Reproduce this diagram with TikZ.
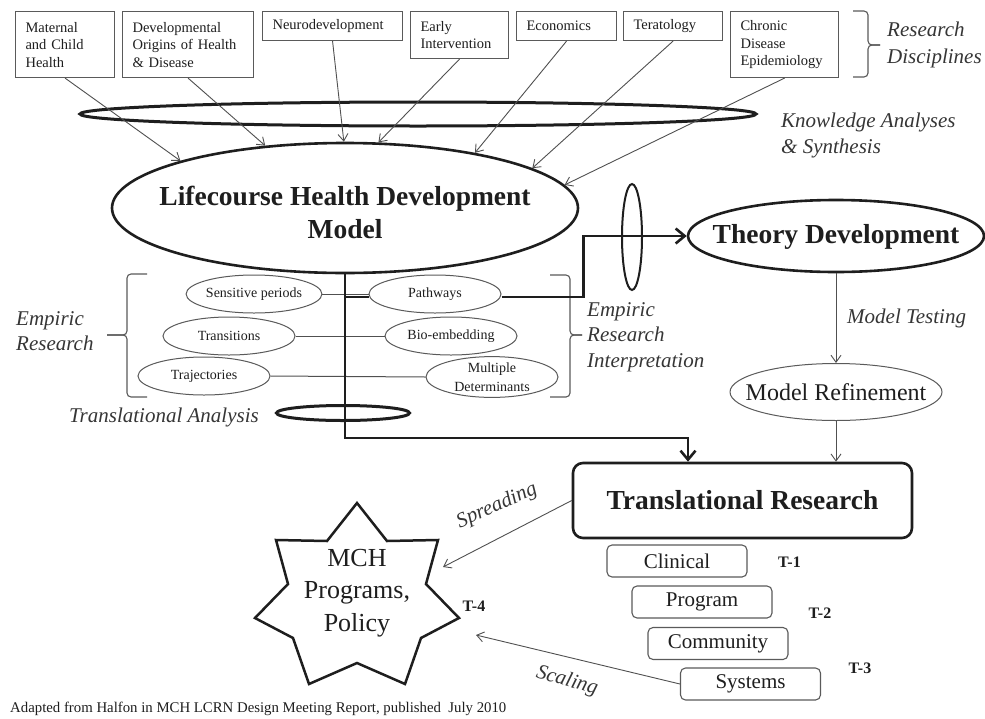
\documentclass[tikz,border=0pt]{standalone}
\usepackage{fontspec}
\setmainfont{Liberation Serif}
\usetikzlibrary{shapes.geometric, arrows.meta, calc}

\definecolor{ink}{HTML}{1E1E1E}
\definecolor{boxgray}{HTML}{5A5A5A}
\definecolor{linegray}{HTML}{505050}
\definecolor{labelgray}{HTML}{363636}

\begin{document}
\begin{tikzpicture}[x=1pt, y=-1pt,
  every node/.style={text=ink},
  discbox/.style={draw=boxgray, line width=1.1pt, anchor=north west, align=left,
    inner xsep=10pt, inner ysep=2pt, font=\fontsize{14.5}{17.5}\selectfont},
  ring/.style={ellipse, draw=ink, line width=2.6pt, inner sep=0pt},
  factor/.style={ellipse, draw=boxgray, line width=1pt, inner sep=0pt,
    minimum width=132pt, minimum height=38pt, align=center,
    font=\fontsize{14}{19}\selectfont},
  tag/.style={font=\fontsize{21}{26}\selectfont\itshape, text=labelgray,
    align=left, anchor=west, inner sep=0pt},
  title/.style={font=\bfseries\fontsize{27.5}{34}\selectfont, align=center, inner sep=0pt},
  feed/.style={draw=linegray, line width=0.9pt, -{Straight Barb[length=7pt,width=10pt]}},
  link/.style={draw=linegray, line width=1pt},
  trunk/.style={draw=ink, line width=2.6pt},
  trunkarrow/.style={trunk, -{Straight Barb[length=9pt,width=15pt]}},
  level/.style={draw=boxgray, line width=1.1pt, rounded corners=5pt,
    minimum width=140pt, minimum height=32pt, inner sep=0pt,
    font=\fontsize{21}{24}\selectfont},
  tier/.style={font=\bfseries\fontsize{16}{18}\selectfont, inner sep=0pt},
  bracket/.style={draw=boxgray, line width=1.1pt, rounded corners=4pt}
]
\useasboundingbox (0,0) rectangle (985,718);
\fill[white] (0,0) rectangle (985,718);

% research disciplines
\node[discbox, text width=79pt,  minimum height=66pt] (mch1) at (15,11)  {Maternal\\and Child\\Health};
\node[discbox, text width=111pt, minimum height=66pt] (doh)  at (122,11) {Developmental\\Origins of Health\\\& Disease};
\node[discbox, text width=120pt, minimum height=29pt] (neu)  at (262,11) {Neurodevelopment};
\node[discbox, text width=78pt,  minimum height=47pt] (ei)   at (410,11) {Early\\Intervention};
\node[discbox, text width=80pt,  minimum height=29pt] (eco)  at (516,11) {Economics};
\node[discbox, text width=79pt,  minimum height=29pt] (ter)  at (623,11) {Teratology};
\node[discbox, text width=88pt,  minimum height=66pt] (cde)  at (730,11) {Chronic\\Disease\\Epidemiology};

\draw[bracket] (853,11) -- (868,11) -- (868,45) -- (880,45);
\draw[bracket] (853,77) -- (868,77) -- (868,45) -- (880,45);
\node[tag, font=\fontsize{21}{27}\selectfont\itshape] (rd) at (887,45) {Research\\Disciplines};

% knowledge synthesis lens and the model
\node[ring, line width=3pt, minimum width=676pt, minimum height=24pt] (kas) at (418,114) {};
\node[tag] (kal) at (781,135) {Knowledge Analyses\\\& Synthesis};

\node[ring, minimum width=466pt, minimum height=130pt] (lhd) at (345,208) {};
\node[title] (lhdtext) at (345,212) {Lifecourse Health Development\\[-1pt]Model};

\draw[feed] (mch1.south) -- (lhd.164);
\draw[feed] (doh.south)  -- (lhd.142);
\draw[feed] (neu.south)  -- (lhd.91);
\draw[feed] (ei.south)   -- (lhd.63);
\draw[feed] (eco.south)  -- (lhd.23);
\draw[feed] (ter.south)  -- (lhd.12);
\draw[feed] (cde.south)  -- (lhd.6);

% empiric research factors
\node[factor] (sp) at (254,294) {Sensitive periods};
\node[factor] (pw) at (435,294) {Pathways};
\node[factor] (tn) at (229,336) {Transitions};
\node[factor] (be) at (451,336) {Bio-embedding};
\node[factor] (tj) at (204,376) {Trajectories};
\node[factor, minimum height=40pt] (md) at (492,377) {Multiple\\Determinants};

\draw[link] (sp.east) -- (pw.west);
\draw[link] (tn.east) -- (be.west);
\draw[link] (tj.east) -- (md.west);

\draw[bracket] (147,274) -- (127,274) -- (127,335) -- (107,335);
\draw[bracket] (147,397) -- (127,397) -- (127,335) -- (107,335);
\node[tag, font=\fontsize{21}{25}\selectfont\itshape] (er) at (16,331) {Empiric\\Research};

\draw[bracket] (550,275) -- (570,275) -- (570,335) -- (582,335);
\draw[bracket] (550,397) -- (570,397) -- (570,335) -- (582,335);
\node[tag, font=\fontsize{21}{25.5}\selectfont\itshape] (eri) at (587,337) {Empiric\\Research\\Interpretation};

% theory branch
\node[ring, line width=2pt, minimum width=20pt, minimum height=106pt] (lens) at (632,237) {};
\node[ring, minimum width=296pt, minimum height=72pt] (td) at (836,236) {};
\node[title] (tdtext) at (836,237) {Theory Development};

\coordinate (pwjoin) at ($(lhd.south |- pw.west)+(0,3)$);
\draw[trunk] (pwjoin) -- ($(pw.west)+(0,3)$);
\draw[trunkarrow] ($(pw.east)+(0,3)$) -- ++(82,0) |- (td.west);

\node[ellipse, draw=boxgray, line width=1pt, minimum width=212pt, minimum height=57pt,
  inner sep=0pt] (mr) at (836,392) {};
\node[font=\fontsize{24}{26}\selectfont, inner sep=0pt] (mrtext) at (836,392) {Model Refinement};
\draw[feed] (td.south) -- (mr.north);
\node[tag] (mt) at (847,318) {Model Testing};

% translational branch
\node[ring, line width=3pt, minimum width=133pt, minimum height=15pt] (tal) at (343,413) {};
\node[tag] (tan) at (69,417) {Translational Analysis};

\node[draw=ink, line width=2.6pt, rounded corners=10pt, minimum width=339pt,
  minimum height=75pt, inner sep=0pt, title] (tr) at (742.5,500.5) {Translational Research};

\coordinate (elbow) at (688,438);
\draw[trunkarrow] (lhd.south) -- (lhd.south |- elbow) -- (elbow) -- (elbow |- tr.north);
\draw[feed] (mr.south) -- (mr.south |- tr.north);

\node[level] (cli) at (677,561)   {Clinical};
\node[level] (prg) at (702,602)   {Program};
\node[level] (com) at (718,643.5) {Community};
\node[level] (sys) at (750.5,684) {Systems};

\node[tier] (t1) at (789.5,562) {T-1};
\node[tier] (t2) at (820,613)   {T-2};
\node[tier] (t3) at (860,668)   {T-3};

% programs and policy: seven-pointed star
\node[circle, minimum size=150pt, inner sep=0pt] (mch) at (357,600) {};
\draw[ink, line width=2.5pt, line join=miter, shift={(mch.center)}]
  (0,-97) -- (30,-59) -- (81,-60) -- (69,-16) -- (102,18) -- (64,38) -- (48,84)
  -- (0,63) -- (-48,84) -- (-64,38) -- (-102,18) -- (-69,-16) -- (-81,-60)
  -- (-30,-59) -- cycle;
\node[align=center, font=\fontsize{26}{32.5}\selectfont] (mchtext) at (357,593)
  {MCH\\Programs,\\Policy};
\node[tier] (t4) at (474,606) {T-4};

\coordinate (spreadEnd) at (443,567);
\coordinate (scaleEnd) at (476,635);
\draw[feed] (tr.west) -- (spreadEnd);
\draw[feed] (sys.west) -- (scaleEnd);
\node[tag, anchor=center, rotate=24] (spr) at (497,506) {Spreading};
\node[tag, anchor=center, rotate=-16] (scl) at (567,681) {Scaling};

\node[anchor=west, inner sep=0pt, font=\fontsize{14.8}{16}\selectfont] (src) at (10,709)
  {Adapted from Halfon in MCH LCRN Design Meeting Report, published~ July 2010};
\end{tikzpicture}
\end{document}
